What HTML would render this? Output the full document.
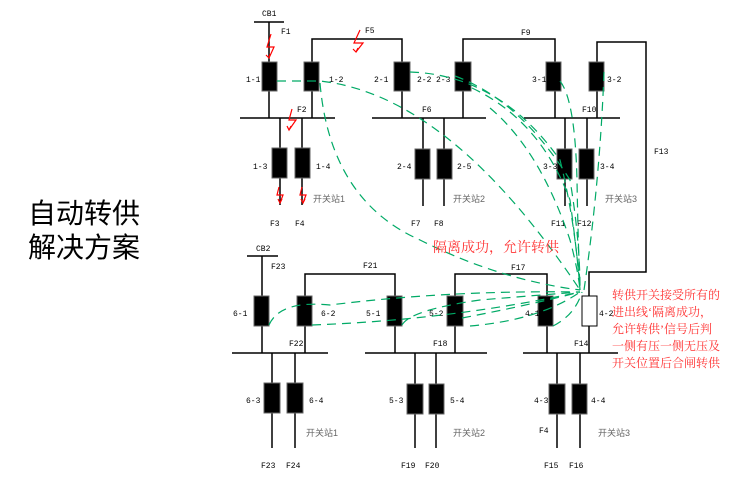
<!DOCTYPE html>
<html><head><meta charset="utf-8"><style>
body{margin:0;background:#fff;width:738px;height:477px;overflow:hidden}
svg{display:block}
.t{font-family:"Liberation Mono",monospace;font-size:8px;fill:#000}
.c{font-family:"Liberation Sans","Noto Sans CJK SC",sans-serif;font-size:9px;fill:#666}
.b{fill:#000;stroke:#666;stroke-width:1}
.l{stroke:#000;stroke-width:1.5;fill:none}
.g{stroke:#0a6;stroke-width:1.2;fill:none;stroke-dasharray:9 6}
.r{stroke:#f00;stroke-width:1.2;fill:none}
</style></head><body>
<svg width="738" height="477" xmlns="http://www.w3.org/2000/svg">
<text x="28" y="223" style="font-family:'Liberation Sans','Noto Sans CJK SC',sans-serif;font-size:28px">自动转供</text>
<text x="28" y="257" style="font-family:'Liberation Sans','Noto Sans CJK SC',sans-serif;font-size:28px">解决方案</text>
<g class="l">
<path d="M254 22H284M269 22V118M240 118H335M372 118H486M524 118H620"/>
<path d="M312 118V39H402V118"/>
<path d="M463 118V39H555V118"/>
<path d="M597 118V42H646V272H589V353"/>
<path d="M280 118V205M302 118V205M423 118V206M444 118V206M565 118V206M587 118V206"/>
<path d="M247 256H278M262 256V353M232 353H328M365 353H487M523 353H618"/>
<path d="M305 353V274H395V353"/>
<path d="M455 353V274H547V353"/>
<path d="M272 353V448M295 353V448M415 353V448M436 353V448M557 353V448M580 353V448"/>
</g>
<g class="b">
<rect x="262" y="62" width="15" height="29"/><rect x="304" y="62" width="15" height="29"/>
<rect x="394" y="62" width="16" height="29"/><rect x="455" y="62" width="16" height="29"/>
<rect x="546" y="62" width="15" height="29"/><rect x="589" y="62" width="15" height="29"/>
<rect x="272" y="148" width="15" height="30"/><rect x="295" y="148" width="15" height="30"/>
<rect x="415" y="149" width="15" height="30"/><rect x="437" y="149" width="15" height="30"/>
<rect x="557" y="149" width="15" height="30"/><rect x="579" y="149" width="15" height="30"/>
<rect x="254" y="296" width="15" height="30"/><rect x="297" y="296" width="15" height="30"/>
<rect x="387" y="296" width="15" height="30"/><rect x="447" y="296" width="16" height="30"/>
<rect x="538" y="296" width="15" height="30"/>
<rect x="264" y="383" width="16" height="30"/><rect x="287" y="383" width="16" height="30"/>
<rect x="407" y="384" width="16" height="30"/><rect x="429" y="384" width="15" height="30"/>
<rect x="549" y="384" width="16" height="30"/><rect x="572" y="384" width="15" height="30"/>
</g>
<rect x="582" y="296" width="15" height="30" fill="#fff" stroke="#000"/>
<g class="t">
<text x="262" y="16">CB1</text><text x="281" y="34">F1</text><text x="365" y="33">F5</text><text x="521" y="35">F9</text>
<text x="246" y="82">1-1</text><text x="329" y="82">1-2</text><text x="374" y="82">2-1</text><text x="417" y="82">2-2</text><text x="436" y="82">2-3</text>
<text x="532" y="82">3-1</text><text x="607" y="82">3-2</text>
<text x="297" y="112">F2</text><text x="422" y="112">F6</text><text x="582" y="112">F10</text><text x="654" y="154">F13</text>
<text x="253" y="169">1-3</text><text x="316" y="169">1-4</text><text x="397" y="169">2-4</text><text x="457" y="169">2-5</text><text x="543" y="169">3-3</text><text x="600" y="169">3-4</text>
<text x="270" y="226">F3</text><text x="295" y="226">F4</text><text x="411" y="226">F7</text><text x="434" y="226">F8</text><text x="551" y="226">F11</text><text x="577" y="226">F12</text>
<text x="256" y="251">CB2</text><text x="271" y="269">F23</text><text x="363" y="268">F21</text><text x="511" y="270">F17</text>
<text x="233" y="316">6-1</text><text x="321" y="316">6-2</text><text x="366" y="316">5-1</text><text x="429" y="316">5-2</text><text x="525" y="316">4-1</text><text x="599" y="316">4-2</text>
<text x="289" y="346">F22</text><text x="433" y="346">F18</text><text x="574" y="346">F14</text>
<text x="246" y="403">6-3</text><text x="309" y="403">6-4</text><text x="389" y="403">5-3</text><text x="450" y="403">5-4</text><text x="534" y="403">4-3</text><text x="591" y="403">4-4</text>
<text x="539" y="433">F4</text>
<text x="261" y="468">F23</text><text x="286" y="468">F24</text><text x="401" y="468">F19</text><text x="425" y="468">F20</text><text x="544" y="468">F15</text><text x="569" y="468">F16</text>
</g>
<g class="c">
<text x="313" y="202">开关站1</text><text x="453" y="202">开关站2</text><text x="605" y="202">开关站3</text>
<text x="306" y="436">开关站1</text><text x="453" y="436">开关站2</text><text x="598" y="436">开关站3</text>
</g>
<g class="r">
<path d="M271 34L267 47H274L269 58M266 55L269 58L270 54"/>
<path d="M360 30L354 43H363L356 52M353 49L356 52L358 48"/>
<path d="M292 109L289 120H296L289 130M287 126L289 130L291 126"/>
<path d="M279 187L277 195H283L280 203M278 199L280 203L282 199"/>
<path d="M302 187L300 195H306L303 203M301 199L303 203L305 199"/>
</g>
<g class="g">
<path d="M277 81H320Q450 95 580 290"/>
<path d="M320 83Q330 200 420 240Q500 280 580 290"/>
<path d="M410 72Q500 75 560 160Q575 220 580 290"/>
<path d="M455 76Q520 100 570 180Q580 240 580 290"/>
<path d="M472 88Q540 120 570 200Q578 260 580 290"/>
<path d="M490 108Q540 150 570 240Q578 270 580 290"/>
<path d="M560 81Q575 100 577 180Q578 240 580 290"/>
<path d="M604 72Q600 180 584 290"/>
<path d="M269 325Q280 300 330 305Q450 290 580 292"/>
<path d="M312 325Q450 320 580 292"/>
<path d="M402 325Q410 310 480 300Q540 295 580 292"/>
<path d="M462 318Q530 305 580 292"/>
<path d="M470 326Q540 320 580 292"/>
<path d="M553 326Q575 315 582 292"/>
</g>
<g style="font-family:'Liberation Serif','Noto Serif CJK SC',serif;fill:#f33">
<text x="433" y="252" font-size="14">隔离成功，允许转供</text>
<g font-size="12"><text x="612" y="299">转供开关接受所有的</text><text x="612" y="316">进出线‘隔离成功，</text><text x="612" y="333">允许转供’信号后判</text><text x="612" y="350">一侧有压一侧无压及</text><text x="612" y="367">开关位置后合闸转供</text></g>
</g>
</svg>
</body></html>
